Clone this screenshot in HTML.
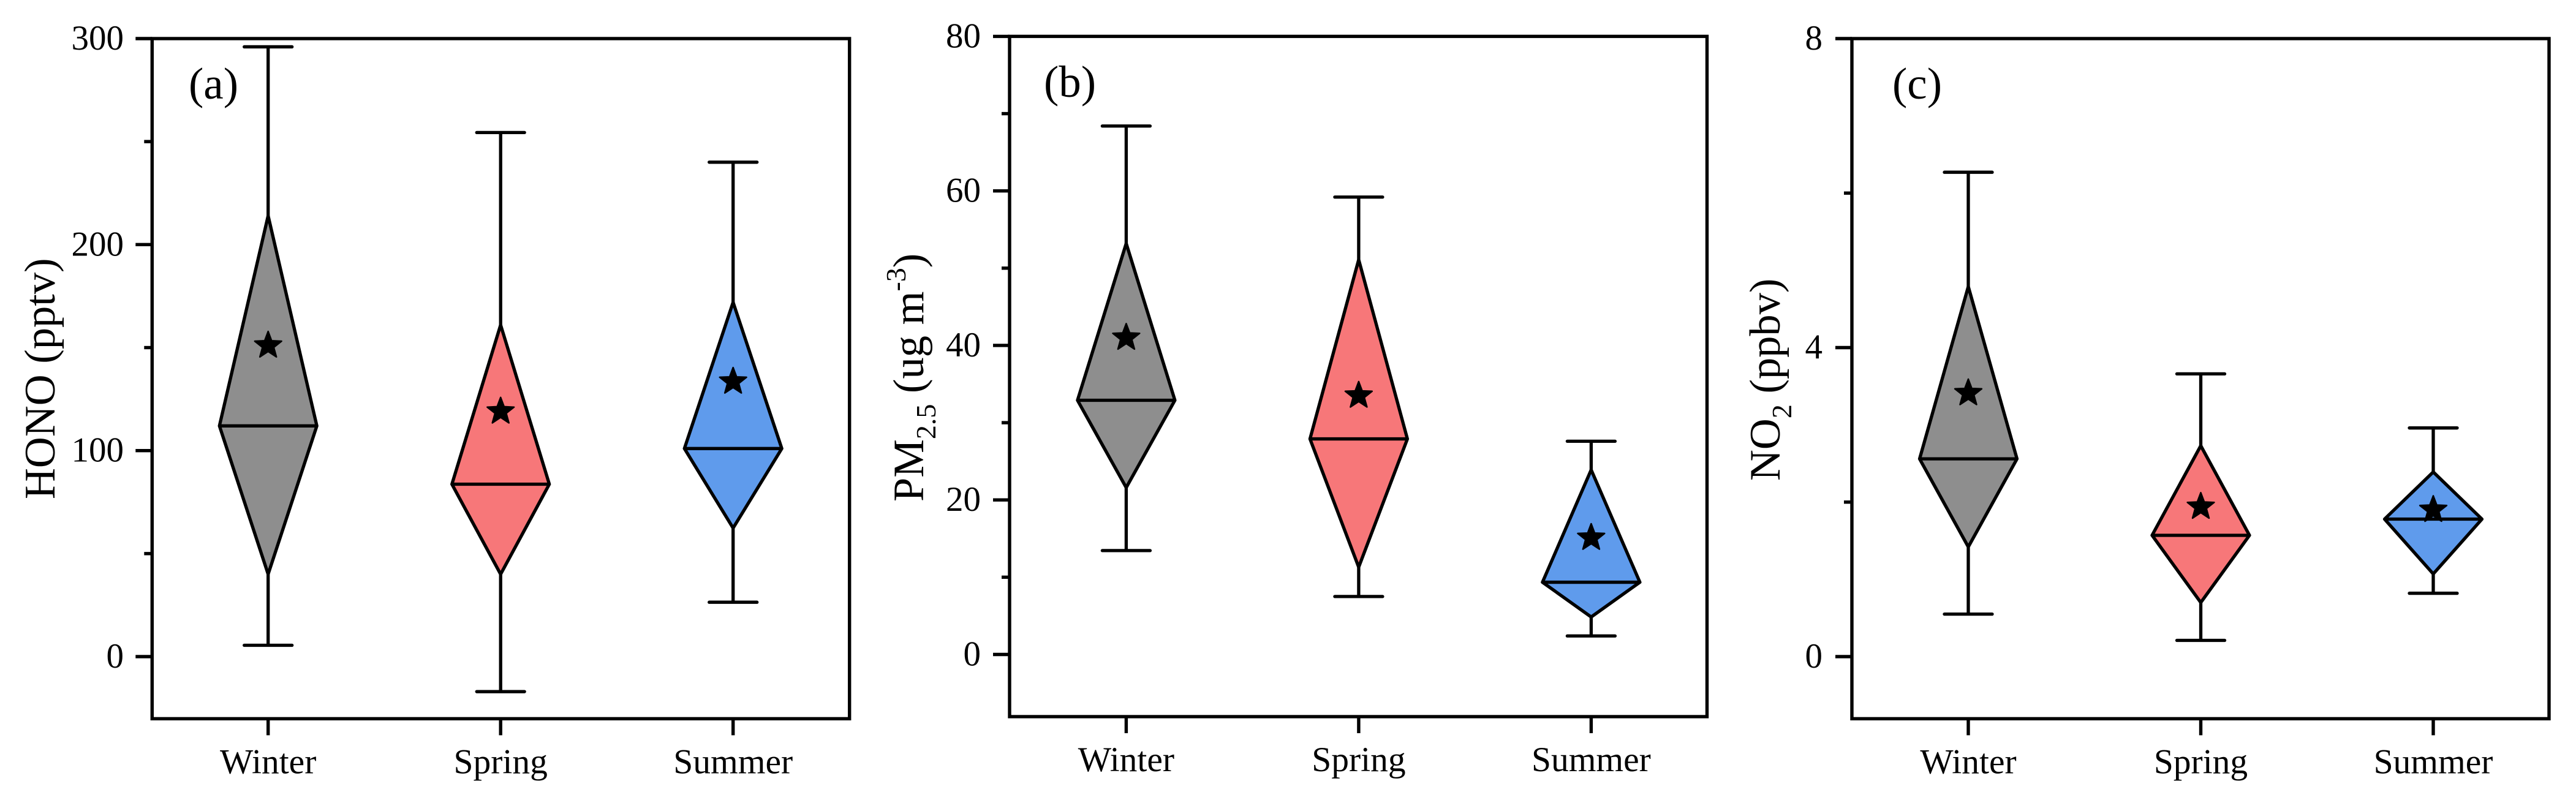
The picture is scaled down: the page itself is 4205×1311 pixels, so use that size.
<!DOCTYPE html>
<html lang="en">
<head>
<meta charset="utf-8">
<title>Seasonal box charts of HONO, PM2.5 and NO2</title>
<style>
html,body{margin:0;padding:0;background:#fff;width:4205px;height:1311px;overflow:hidden}
svg{display:block}
text{font-family:"Liberation Serif",serif;fill:#000}
</style>
</head>
<body>
<svg id="figure" xmlns="http://www.w3.org/2000/svg" width="4205" height="1311" viewBox="0 0 4205 1311">
  <rect width="4205" height="1311" fill="#fff"/>
  <g id="panel-a">
    <text x="308" y="161" font-size="73">(a)</text>
    <text transform="translate(89,815) rotate(-90)" font-size="70.5">HONO (pptv)</text>
  </g>
  <g id="panel-b">
    <text x="1704" y="158" font-size="73">(b)</text>
    <text transform="translate(1507,819) rotate(-90)" font-size="70.5">PM<tspan font-size="46" dy="20">2.5</tspan><tspan dy="-20"> (ug m</tspan><tspan font-size="46" dy="-29">-3</tspan><tspan dy="29">)</tspan></text>
  </g>
  <g id="panel-c">
    <text x="3089" y="161" font-size="73">(c)</text>
    <text transform="translate(2905,785) rotate(-90)" font-size="70.5">NO<tspan font-size="46" dy="19">2</tspan><tspan dy="-19"> (ppbv)</tspan></text>
  </g>
</svg>
<script>
// Shared categories and colours
const seasons = ["Winter", "Spring", "Summer"];
const seasonColors = ["#8e8e8e", "#f77779", "#5f9bec"];

// (a) HONO, pptv
const honoTicks = [0, 100, 200, 300];
const honoMinorTicks = [50, 150, 250];
const honoUpper = [296, 254.4, 240];
const honoQ3 = [214, 161, 172];
const honoMedian = [112, 83.7, 101];
const honoQ1 = [40, 40, 62.4];
const honoLower = [5.5, -17, 26.4];
const honoMean = [151, 119, 133.5];

// (b) PM2.5, ug m-3
const pmTicks = [0, 20, 40, 60, 80];
const pmMinorTicks = [10, 30, 50, 70];
const pmUpper = [68.4, 59.2, 27.6];
const pmQ3 = [53.2, 51.1, 23.9];
const pmMedian = [32.9, 27.9, 9.35];
const pmQ1 = [21.6, 11.3, 4.85];
const pmLower = [13.45, 7.5, 2.4];
const pmMean = [41, 33.5, 15.1];

// (c) NO2, ppbv
const no2Ticks = [0, 4, 8];
const no2MinorTicks = [2, 6];
const no2Upper = [6.27, 3.66, 2.96];
const no2Q3 = [4.79, 2.73, 2.39];
const no2Median = [2.56, 1.57, 1.78];
const no2Q1 = [1.42, 0.7, 1.07];
const no2Lower = [0.55, 0.21, 0.82];
const no2Mean = [3.41, 1.94, 1.9];

const NS = "http://www.w3.org/2000/svg";

function make(parent, tag, attrs) {
  const el = document.createElementNS(NS, tag);
  for (const k in attrs) el.setAttribute(k, attrs[k]);
  parent.appendChild(el);
  return el;
}

function starPoints(cx, cy, R) {
  const r = R * 0.42;
  const pts = [];
  for (let i = 0; i < 10; i++) {
    const a = -Math.PI / 2 + i * Math.PI / 5;
    const rad = i % 2 ? r : R;
    pts.push((cx + rad * Math.cos(a)).toFixed(1) + "," + (cy + rad * Math.sin(a)).toFixed(1));
  }
  return pts.join(" ");
}

function drawPanel(p) {
  const g = document.getElementById(p.id);
  const y = v => p.yZero - v * (p.yZero - p.top) / p.maxValue;
  const x = i => p.firstX + i * 379.5;
  const sw = 5.4;
  const lw = 5.3;

  // Whiskers, caps, diamonds, medians, means
  seasons.forEach((name, i) => {
    const cx = x(i);
    const series = make(g, "g", {});
    
    

    const wUp = make(series, "line", {x1: cx, x2: cx, y1: y(p.upper[i]), y2: y(p.q3[i]), stroke: "#000", "stroke-width": lw});
    
    

    const wLo = make(series, "line", {x1: cx, x2: cx, y1: y(p.q1[i]), y2: y(p.lower[i]), stroke: "#000", "stroke-width": lw});
    
    

    const capUp = make(series, "line", {x1: cx - 39, x2: cx + 39, y1: y(p.upper[i]), y2: y(p.upper[i]), stroke: "#000", "stroke-width": lw, "stroke-linecap": "round"});
    
    

    const capLo = make(series, "line", {x1: cx - 39, x2: cx + 39, y1: y(p.lower[i]), y2: y(p.lower[i]), stroke: "#000", "stroke-width": lw, "stroke-linecap": "round"});
    
    

    const pts = [[cx, y(p.q3[i])], [cx + 79.5, y(p.median[i])], [cx, y(p.q1[i])], [cx - 79.5, y(p.median[i])]];
    const diamond = make(series, "polygon", {points: pts.map(q => q.join(",")).join(" "), fill: seasonColors[i], stroke: "#000", "stroke-width": lw, "stroke-linejoin": "round"});
    
    

    const med = make(series, "line", {x1: cx - 79.5, x2: cx + 79.5, y1: y(p.median[i]), y2: y(p.median[i]), stroke: "#000", "stroke-width": lw});
    
    

    const star = make(series, "polygon", {points: starPoints(cx, y(p.mean[i]), 23), fill: "#000", stroke: "#000", "stroke-width": 2.5, "stroke-linejoin": "round"});
    
    
  });

  // Frame
  const frame = make(g, "rect", {x: p.left, y: p.top, width: p.right - p.left, height: p.bottom - p.top, fill: "none", stroke: "#000", "stroke-width": sw});
  
  

  // Y ticks
  p.ticks.forEach(v => {
    const tick = make(g, "line", {x1: p.left - 27, x2: p.left, y1: y(v), y2: y(v), stroke: "#000", "stroke-width": sw});
    
    

    const label = make(g, "text", {x: p.labelRight, y: y(v) + 18, "font-size": 57, "text-anchor": "end"});
    
    
    label.textContent = v;
  });
  p.minor.forEach(v => {
    const tick = make(g, "line", {x1: p.left - 13, x2: p.left, y1: y(v), y2: y(v), stroke: "#000", "stroke-width": sw});
    
    
  });

  // X ticks
  seasons.forEach((name, i) => {
    const tick = make(g, "line", {x1: x(i), x2: x(i), y1: p.bottom, y2: p.bottom + 27, stroke: "#000", "stroke-width": sw});
    
    

    const label = make(g, "text", {x: x(i), y: p.bottom + 89, "font-size": 57.5, "text-anchor": "middle"});
    
    
    label.textContent = name;
  });
}

drawPanel({id: "panel-a", left: 248.3, right: 1386.7, top: 63, bottom: 1173.4, yZero: 1072, maxValue: 300, firstX: 437.7, labelRight: 202,
  ticks: honoTicks, minor: honoMinorTicks, upper: honoUpper, q3: honoQ3, median: honoMedian, q1: honoQ1, lower: honoLower, mean: honoMean});
drawPanel({id: "panel-b", left: 1648, right: 2786.5, top: 59.4, bottom: 1170, yZero: 1068.5, maxValue: 80, firstX: 1838.4, labelRight: 1601,
  ticks: pmTicks, minor: pmMinorTicks, upper: pmUpper, q3: pmQ3, median: pmMedian, q1: pmQ1, lower: pmLower, mean: pmMean});
drawPanel({id: "panel-c", left: 3023, right: 4161, top: 63, bottom: 1173.4, yZero: 1072, maxValue: 8, firstX: 3213, labelRight: 2975,
  ticks: no2Ticks, minor: no2MinorTicks, upper: no2Upper, q3: no2Q3, median: no2Median, q1: no2Q1, lower: no2Lower, mean: no2Mean});
</script>
</body>
</html>
